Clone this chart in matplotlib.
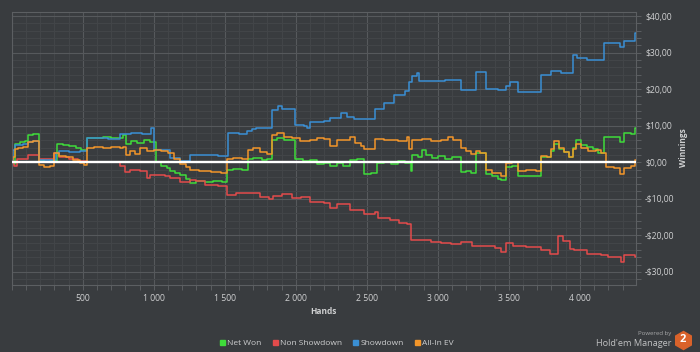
import matplotlib
matplotlib.use("Agg")
import matplotlib.pyplot as plt
from matplotlib.lines import Line2D
from matplotlib.ticker import MultipleLocator, FuncFormatter

plt.rcParams['font.family'] = ['Open Sans', 'DejaVu Sans']

# hand number where each step starts, and the winnings ($) from there on
net_won_hands = [0, 15, 25, 60, 95, 116, 150, 194, 230, 270, 317, 360, 400, 450, 490,
                 533, 580, 640, 700, 786, 805, 840, 880, 930, 975, 1017, 1050, 1090,
                 1116, 1150, 1186, 1230, 1257, 1300, 1360, 1420, 1480, 1515, 1560, 1620,
                 1666, 1700, 1760, 1800, 1833, 1870, 1920, 1960, 1997, 2050, 2100, 2150,
                 2200, 2244, 2290, 2330, 2385, 2430, 2479, 2530, 2573, 2620, 2670, 2720,
                 2770, 2808, 2820, 2860, 2891, 2920, 2960, 3000, 3050, 3100, 3161, 3200,
                 3230, 3266, 3300, 3337, 3380, 3420, 3443, 3478, 3520, 3561, 3620, 3680,
                 3725, 3770, 3800, 3817, 3850, 3890, 3923, 3951, 3972, 4010, 4050, 4090,
                 4130, 4169, 4230, 4280, 4310, 4360, 4390, 4395]
net_won = [0.0, -0.6, 5.0, 5.6, 5.9, 7.4, 7.6, 0.6, 0.2, 0.4, 5.0, 4.6, 4.4, 4.0, 3.4,
           6.5, 6.6, 6.9, 6.6, 7.4, 5.1, 5.8, 5.4, 6.0, 5.6, 0.0, -1.0, -1.5,
           -2.5, -3.0, -3.6, -4.6, -5.6, -5.1, -5.4, -5.0, -5.5, -2.2, -1.8, -2.0,
           0.8, 1.2, 0.6, 0.9, 6.0, 6.5, 6.2, 6.0, 1.0, 0.4, 0.7, -0.5,
           -0.2, -1.0, -0.3, -1.1, 0.5, 0.8, -3.1, -2.9, -0.3, 0.2, -0.4, 0.3,
           -0.2, -2.5, 1.9, 1.5, 3.3, 2.0, 1.2, 1.8, 0.8, 1.5, -2.6, -2.3,
           -3.0, 2.6, 2.4, -3.1, -3.8, -4.5, -4.8, -1.3, -0.9, -3.7, -3.9, -3.7,
           1.5, 1.3, 3.0, 5.1, 3.6, 2.8, 1.5, 4.0, 6.0, 4.8, 4.2, 3.5,
           2.5, 7.0, 6.8, 5.5, 7.9, 7.7, 9.3, 9.3]

non_showdown_hands = [0, 15, 35, 116, 194, 300, 330, 400, 470, 533, 650, 760, 800, 834,
                      900, 951, 975, 1080, 1116, 1186, 1257, 1300, 1362, 1450, 1515, 1580,
                      1666, 1750, 1810, 1840, 1900, 1970, 2040, 2100, 2200, 2244, 2290,
                      2385, 2479, 2561, 2580, 2660, 2730, 2780, 2808, 2900, 2950, 3020,
                      3090, 3161, 3240, 3302, 3400, 3443, 3478, 3530, 3620, 3725, 3790,
                      3845, 3880, 3930, 3960, 4050, 4148, 4200, 4289, 4310, 4390, 4395]
non_showdown = [-0.5, -1.0, 0.8, 2.1, 0.8, 2.4, 1.3, 0.8, 0.3, 0.0, 0.1, -1.0, -2.6, -2.0,
                -2.4, -4.4, -3.5, -3.8, -4.3, -5.4, -4.8, -5.0, -6.3, -6.5, -8.9, -8.5,
                -8.3, -9.5, -10.1, -9.3, -8.8, -9.8, -9.6, -11.0, -11.2, -12.5, -11.5,
                -13.0, -14.3, -13.5, -15.3, -15.8, -16.7, -16.9, -21.3, -21.4, -21.9, -22.0,
                -22.3, -21.8, -22.9, -23.0, -23.5, -24.5, -22.0, -23.0, -23.2, -24.0, -25.0,
                -20.2, -21.5, -23.8, -24.0, -25.0, -25.5, -26.0, -27.3, -25.5, -25.8, -25.8]

showdown_hands = [0, 10, 25, 80, 116, 150, 194, 250, 310, 330, 400, 480, 533, 620, 680,
                  763, 840, 920, 980, 1003, 1080, 1116, 1186, 1257, 1350, 1450, 1525, 1600,
                  1660, 1690, 1720, 1833, 1877, 1900, 1997, 2060, 2080, 2100, 2200, 2244,
                  2315, 2360, 2410, 2561, 2620, 2688, 2770, 2800, 2820, 2850, 2870, 2990,
                  3050, 3161, 3220, 3266, 3337, 3420, 3478, 3510, 3561, 3725, 3800, 3870,
                  3951, 3980, 4050, 4169, 4280, 4310, 4390, 4395]
showdown = [0.5, 3.3, 4.7, 5.0, 5.5, 5.8, 0.6, 0.5, 2.4, 3.1, 2.8, 3.0, 6.5, 6.5, 6.3,
            7.7, 7.9, 7.6, 9.4, 3.3, 3.3, 1.2, 0.4, 1.9, 2.0, 1.8, 7.9, 7.8,
            8.6, 9.2, 9.3, 14.3, 15.4, 14.7, 10.2, 10.0, 9.4, 11.0, 11.2, 12.0,
            13.5, 12.3, 11.9, 14.7, 16.3, 18.4, 19.6, 22.0, 23.5, 24.3, 22.1, 22.3,
            22.6, 19.7, 19.9, 24.7, 20.0, 19.8, 21.0, 22.0, 19.3, 23.8, 25.0, 24.5,
            29.3, 28.6, 28.0, 32.5, 31.5, 33.2, 35.3, 35.3]

allin_ev_hands = [0, 10, 20, 45, 80, 116, 150, 194, 230, 270, 300, 330, 380, 430, 480, 510,
                  533, 580, 640, 700, 760, 786, 805, 834, 870, 905, 950, 1000, 1050, 1100,
                  1140, 1186, 1230, 1257, 1320, 1400, 1470, 1515, 1560, 1620, 1666, 1700,
                  1750, 1800, 1833, 1870, 1920, 1970, 2030, 2100, 2150, 2200, 2244, 2290,
                  2330, 2385, 2420, 2456, 2479, 2561, 2620, 2688, 2720, 2785, 2800, 2820,
                  2891, 2950, 3020, 3070, 3110, 3161, 3200, 3230, 3266, 3300, 3337, 3380,
                  3443, 3478, 3520, 3561, 3620, 3690, 3725, 3770, 3800, 3817, 3850, 3890,
                  3923, 3951, 3972, 4010, 4060, 4110, 4148, 4183, 4240, 4280, 4310, 4360,
                  4390, 4395]
allin_ev = [0.5, 1.5, 3.5, 4.0, 4.3, 5.6, 5.8, -0.8, -1.3, -1.0, 2.4, 1.8, 1.5, 0.6, -0.3, -0.8,
            3.8, 4.2, 4.0, 4.3, 3.9, 4.1, 2.1, 3.0, 2.2, 3.8, 3.0, 3.4, 3.0, 2.6,
            1.0, -0.4, -1.2, -2.0, -2.4, -2.6, -2.9, 0.8, 1.1, 0.9, 3.3, 4.0,
            2.8, 2.3, 7.4, 8.0, 7.0, 6.6, 5.8, 6.0, 6.6, 6.3, 4.5, 6.0,
            6.2, 7.0, 5.2, 4.5, 3.7, 6.3, 6.0, 6.2, 5.8, 7.0, 3.6, 6.0,
            6.4, 5.8, 6.0, 6.8, 6.0, 3.8, 3.2, 2.3, 3.0, 2.5, -2.2, -3.0,
            -3.8, -0.3, 0.0, -2.4, -2.2, -2.3, 1.8, 1.5, 3.5, 5.8, 4.0, 2.7,
            1.5, 3.5, 5.0, 3.8, 3.0, 3.3, 2.5, -1.3, -1.5, -3.3, -1.5, -0.9,
            0.5, 0.5]

labels = ['Net Won', 'Non Showdown', 'Showdown', 'All-In EV']
colors = ['#3fdc3a', '#e34b4b', '#3a8fd4', '#f3962a']

bg = '#393c3f'
txt = '#cfd0d1'

fig = plt.figure(figsize=(7, 3.52), dpi=100, facecolor=bg)
ax = fig.add_axes([11.7 / 700, 1 - 285 / 352, (636 - 11.7) / 700, (285 - 11.7) / 352])
ax.set_facecolor(bg)

series = [(net_won_hands, net_won), (non_showdown_hands, non_showdown),
          (showdown_hands, showdown), (allin_ev_hands, allin_ev)]
for (h, v), c in zip(series, colors):
    ax.plot(h, v, color=c, lw=1.1, drawstyle='steps-post', zorder=2)

ax.axhline(0, color='white', lw=1.7, zorder=3)

ax.set_xlim(0, 4395)
ax.set_ylim(-33.6, 41.2)

ax.xaxis.set_major_locator(MultipleLocator(500))
ax.xaxis.set_minor_locator(MultipleLocator(100))
ax.yaxis.set_major_locator(MultipleLocator(10))
ax.yaxis.set_minor_locator(MultipleLocator(2))

def hands_fmt(x, pos):
    if x <= 0:
        return ''
    return f"{int(x):,}".replace(',', ' ')

def money_fmt(y, pos):
    s = f"${abs(y):.2f}".replace('.', ',')
    return '-' + s if y < 0 else s

ax.xaxis.set_major_formatter(FuncFormatter(hands_fmt))
ax.yaxis.set_major_formatter(FuncFormatter(money_fmt))
ax.yaxis.tick_right()

ax.grid(which='major', color='#56595c', lw=0.8)
ax.grid(which='minor', color='#434649', lw=0.7)
ax.set_axisbelow(True)

for s in ax.spines.values():
    s.set_color('#5c5f62')
    s.set_linewidth(0.8)

ax.tick_params(which='both', colors='#5c5f62', length=3.5, width=0.7)
ax.tick_params(axis='both', which='major', labelcolor=txt, labelsize=6.2)
ax.tick_params(axis='x', which='major', pad=3)
ax.tick_params(axis='y', which='major', pad=3)

fig.text(323 / 700, 1 - 312 / 352, 'Hands', color=txt, fontsize=6, fontweight='bold',
         ha='center', va='center')
fig.text(683 / 700, 1 - 148 / 352, 'Winnings', color=txt, fontsize=6, fontweight='bold',
         ha='center', va='center', rotation=90)

handles = [Line2D([], [], marker='s', color=c, linestyle='none', markersize=3.6) for c in colors]
fig.legend(handles, labels, loc='center', bbox_to_anchor=(336 / 700, 1 - 343 / 352), ncol=4,
           frameon=False, fontsize=6, labelcolor=txt, handletextpad=0.15, columnspacing=1.2,
           handlelength=0.9)

# logo
fig.text(671 / 700, 1 - 333 / 352, 'Powered by', color='#a8a9aa', fontsize=4.3,
         ha='right', va='center')
fig.text(672 / 700, 1 - 343 / 352, "Hold'em Manager", color='#c0c1c2', fontsize=6.6,
         ha='right', va='center')
fig.add_artist(Line2D([683 / 700], [1 - 340 / 352], marker='h', markersize=13,
                      color='#d9622a', linestyle='none', transform=fig.transFigure))
fig.text(683 / 700, 1 - 340 / 352, '2', color='white', fontsize=8, fontweight='bold',
         ha='center', va='center')

fig.savefig('out.png', dpi=100, facecolor=bg)
